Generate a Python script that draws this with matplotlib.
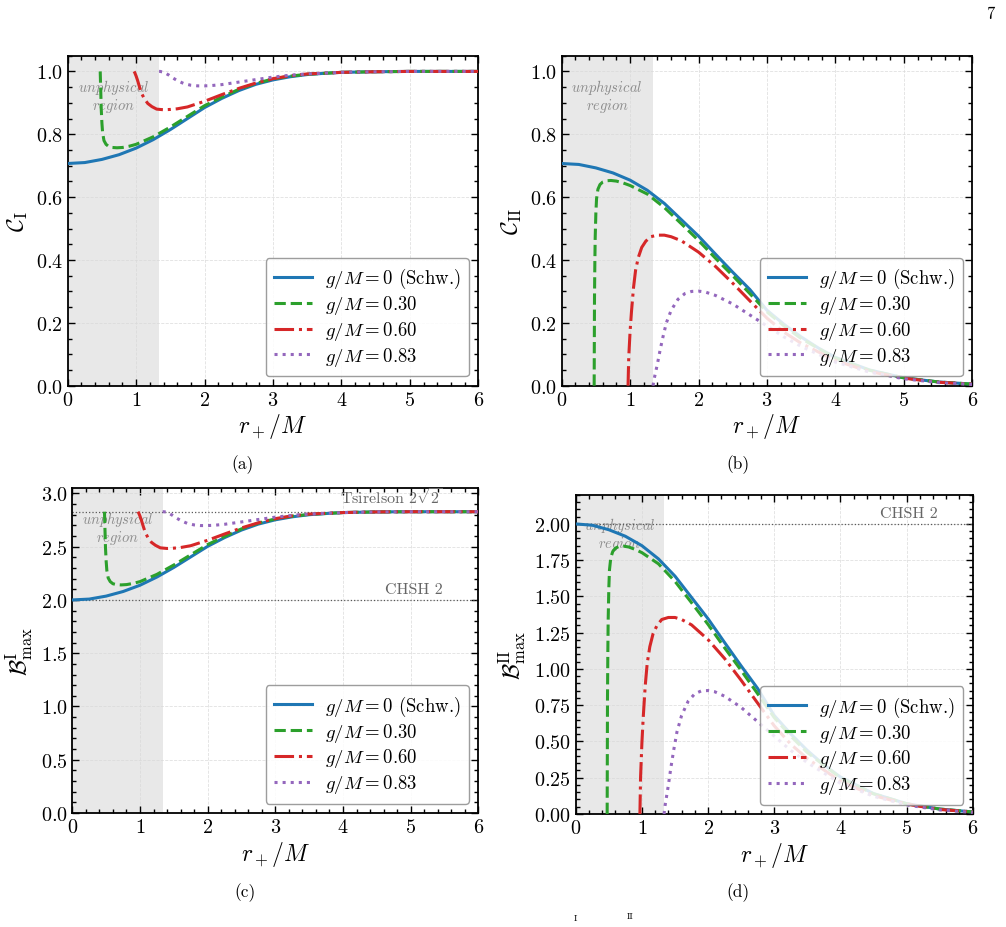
import matplotlib
matplotlib.use("Agg")
import matplotlib.pyplot as plt
from matplotlib.ticker import MultipleLocator, AutoMinorLocator
import matplotlib.transforms as mtransforms

plt.rcParams["font.family"] = "serif"
plt.rcParams["font.serif"] = ["cmr10", "DejaVu Serif"]
plt.rcParams["mathtext.fontset"] = "cm"
plt.rcParams["axes.formatter.use_mathtext"] = True

# r_+/M grids and curve values
x_schw = [0, 0.25, 0.5, 0.75, 1.0, 1.25, 1.5, 1.75, 2.0, 2.25, 2.5, 2.75, 3.0,
          3.25, 3.5, 3.75, 4.0, 4.5, 5.0, 5.5, 6.0]
x_g30 = [0.475, 0.48, 0.485, 0.49, 0.50, 0.51, 0.53, 0.56, 0.60, 0.65, 0.72, 0.80,
         0.90, 1.0, 1.25, 1.5, 1.75, 2.0, 2.25, 2.5, 2.75, 3.0, 3.25, 3.5, 4.0,
         4.5, 5.0, 5.5, 6.0]
x_g60 = [0.97, 0.98, 1.0, 1.02, 1.05, 1.08, 1.12, 1.17, 1.23, 1.30, 1.40, 1.50,
         1.60, 1.75, 2.0, 2.25, 2.5, 2.75, 3.0, 3.25, 3.5, 4.0, 4.5, 5.0, 5.5, 6.0]
x_g83 = [1.335, 1.35, 1.37, 1.40, 1.44, 1.48, 1.53, 1.60, 1.70, 1.80, 1.90, 2.0,
         2.1, 2.25, 2.5, 2.75, 3.0, 3.25, 3.5, 4.0, 4.5, 5.0, 5.5, 6.0]

# (a) C_I
cI_schw = [0.707, 0.710, 0.720, 0.735, 0.756, 0.783, 0.815, 0.850, 0.885, 0.914,
           0.939, 0.959, 0.973, 0.983, 0.990, 0.994, 0.997, 0.999, 1.0, 1.0, 1.0]
cI_g30 = [1.0, 0.96, 0.92, 0.88, 0.835, 0.805, 0.78, 0.768, 0.761, 0.758, 0.757,
          0.758, 0.762, 0.768, 0.792, 0.823, 0.857, 0.891, 0.918, 0.943, 0.962,
          0.976, 0.985, 0.991, 0.997, 0.999, 1.0, 1.0, 1.0]
cI_g60 = [1.0, 0.996, 0.985, 0.972, 0.950, 0.930, 0.913, 0.898, 0.888, 0.880,
          0.878, 0.879, 0.881, 0.887, 0.905, 0.926, 0.946, 0.963, 0.977, 0.986,
          0.992, 0.997, 0.999, 1.0, 1.0, 1.0]
cI_g83 = [1.0, 1.0, 0.999, 0.998, 0.993, 0.988, 0.980, 0.971, 0.961, 0.956, 0.954,
          0.954, 0.955, 0.958, 0.966, 0.974, 0.982, 0.988, 0.992, 0.997, 0.999,
          1.0, 1.0, 1.0]

# (b) C_II
cII_schw = [0.707, 0.704, 0.693, 0.677, 0.654, 0.622, 0.580, 0.528, 0.476, 0.418,
            0.361, 0.306, 0.240, 0.195, 0.155, 0.120, 0.090, 0.050, 0.025, 0.012,
            0.005]
cII_g30 = [0.0, 0.28, 0.39, 0.47, 0.55, 0.595, 0.625, 0.640, 0.648, 0.652, 0.653,
           0.651, 0.645, 0.637, 0.610, 0.567, 0.515, 0.462, 0.405, 0.350, 0.293,
           0.235, 0.19, 0.15, 0.088, 0.049, 0.025, 0.012, 0.005]
cII_g60 = [0.0, 0.09, 0.173, 0.235, 0.312, 0.367, 0.408, 0.440, 0.460, 0.474,
           0.479, 0.479, 0.474, 0.461, 0.425, 0.379, 0.326, 0.27, 0.215, 0.17,
           0.135, 0.08, 0.045, 0.024, 0.011, 0.005]
cII_g83 = [0.0, 0.02, 0.04, 0.07, 0.115, 0.155, 0.20, 0.24, 0.275, 0.293, 0.300,
           0.301, 0.298, 0.287, 0.26, 0.225, 0.19, 0.155, 0.125, 0.075, 0.043,
           0.022, 0.010, 0.004]

# (c) B^I_max
bI_schw = [2.000, 2.008, 2.036, 2.079, 2.138, 2.215, 2.305, 2.404, 2.503, 2.585,
           2.656, 2.712, 2.752, 2.780, 2.800, 2.811, 2.820, 2.826, 2.828, 2.828,
           2.828]
bI_g30 = [2.828, 2.715, 2.602, 2.489, 2.362, 2.277, 2.206, 2.172, 2.152, 2.144,
          2.141, 2.144, 2.155, 2.172, 2.240, 2.328, 2.424, 2.520, 2.596, 2.667,
          2.721, 2.761, 2.786, 2.803, 2.820, 2.826, 2.828, 2.828, 2.828]
bI_g60 = [2.828, 2.817, 2.786, 2.749, 2.687, 2.630, 2.582, 2.540, 2.512, 2.489,
          2.483, 2.486, 2.492, 2.509, 2.560, 2.619, 2.676, 2.724, 2.763, 2.789,
          2.806, 2.820, 2.826, 2.828, 2.828, 2.828]
bI_g83 = [2.828, 2.828, 2.826, 2.823, 2.809, 2.794, 2.772, 2.746, 2.718, 2.704,
          2.698, 2.698, 2.701, 2.710, 2.732, 2.755, 2.777, 2.794, 2.806, 2.820,
          2.826, 2.828, 2.828, 2.828]

# (d) B^II_max
bII_schw = [2.000, 1.991, 1.960, 1.915, 1.850, 1.759, 1.640, 1.493, 1.346, 1.182,
            1.021, 0.865, 0.679, 0.552, 0.438, 0.339, 0.255, 0.141, 0.071, 0.034,
            0.014]
bII_g30 = [0.0, 0.792, 1.103, 1.329, 1.556, 1.683, 1.768, 1.810, 1.833, 1.844,
           1.847, 1.841, 1.824, 1.802, 1.725, 1.604, 1.457, 1.307, 1.146, 0.990,
           0.829, 0.665, 0.537, 0.424, 0.249, 0.139, 0.071, 0.034, 0.014]
bII_g60 = [0.0, 0.255, 0.489, 0.665, 0.882, 1.038, 1.154, 1.245, 1.301, 1.341,
           1.355, 1.355, 1.341, 1.304, 1.202, 1.072, 0.922, 0.764, 0.608, 0.481,
           0.382, 0.226, 0.127, 0.068, 0.031, 0.014]
bII_g83 = [0.0, 0.057, 0.113, 0.198, 0.325, 0.438, 0.566, 0.679, 0.778, 0.829,
           0.849, 0.851, 0.843, 0.812, 0.735, 0.636, 0.537, 0.438, 0.354, 0.212,
           0.122, 0.062, 0.028, 0.011]

labels = [r"$g/M = 0$ (Schw.)", r"$g/M = 0.30$", r"$g/M = 0.60$", r"$g/M = 0.83$"]
colors = ["tab:blue", "tab:green", "tab:red", "tab:purple"]
styles = ["-", "--", "-.", ":"]
xs = [x_schw, x_g30, x_g60, x_g83]
r_unphys = 4 / 3
tsirelson = 2.828
chsh = 2.0

panels = [
    ([0.0673, 0.5833, 0.4082, 0.3556], [cI_schw, cI_g30, cI_g60, cI_g83],
     r"$\mathcal{C}_{\rm I}$", 1.05, 0.2, "(a)", (243, 465)),
    ([0.5583, 0.5833, 0.4082, 0.3556], [cII_schw, cII_g30, cII_g60, cII_g83],
     r"$\mathcal{C}_{\rm II}$", 1.05, 0.2, "(b)", (738, 465)),
    ([0.0719, 0.1228, 0.4036, 0.3502], [bI_schw, bI_g30, bI_g60, bI_g83],
     r"$\mathcal{B}^{\rm I}_{\max}$", 3.05, 0.5, "(c)", (245, 893)),
    ([0.5723, 0.1218, 0.3946, 0.3438], [bII_schw, bII_g30, bII_g60, bII_g83],
     r"$\mathcal{B}^{\rm II}_{\max}$", 2.2, 0.25, "(d)", (738, 893)),
]

fig = plt.figure(figsize=(10.06, 9.28), dpi=100)
W, H = 1006, 928

for k, (pos, ys, ylab, ytop, ystep, cap, cpos) in enumerate(panels):
    ax = fig.add_axes(pos)
    ax.axvspan(0, r_unphys, color="#e8e8e8", lw=0, zorder=0)
    for x, y, c, s, lab in zip(xs, ys, colors, styles, labels):
        ax.plot(x, y, color=c, ls=s, lw=2.2, label=lab, zorder=3)
    ax.set_xlim(0, 6)
    ax.set_ylim(0, ytop)
    ax.xaxis.set_major_locator(MultipleLocator(1))
    ax.yaxis.set_major_locator(MultipleLocator(ystep))
    ax.xaxis.set_minor_locator(AutoMinorLocator())
    ax.yaxis.set_minor_locator(AutoMinorLocator())
    ax.tick_params(which="both", direction="in", top=True, right=True,
                   labelsize=14.5, width=1.0)
    ax.tick_params(which="major", length=5)
    ax.tick_params(which="minor", length=3)
    for sp in ax.spines.values():
        sp.set_linewidth(1.3)
    ax.grid(True, which="major", ls="--", lw=0.6, color="0.85", alpha=0.8)
    ax.set_axisbelow(True)
    ax.set_xlabel(r"$r_+/M$", fontsize=17, labelpad=2)
    ax.set_ylabel(ylab, fontsize=17, labelpad=4)

    trans = mtransforms.blended_transform_factory(ax.transData, ax.transAxes)
    ax.text(r_unphys / 2, 0.88, "$\\mathit{unphysical}$\n$\\mathit{region}$",
            transform=trans, ha="center", va="center", fontsize=10.5,
            color="0.55", zorder=2, linespacing=1.0)

    if k == 2:
        ax.axhline(tsirelson, color="0.35", ls=":", lw=0.9, zorder=2)
        ax.axhline(chsh, color="0.35", ls=":", lw=0.9, zorder=2)
        ax.text(5.47, tsirelson + 0.04, r"Tsirelson $2\sqrt{2}$", ha="right",
                va="bottom", fontsize=11.5, color="0.4")
        ax.text(5.47, chsh + 0.04, "CHSH 2", ha="right", va="bottom",
                fontsize=11.5, color="0.4")
    if k == 3:
        ax.axhline(chsh, color="0.35", ls=":", lw=0.9, zorder=2)
        ax.text(5.47, chsh + 0.03, "CHSH 2", ha="right", va="bottom",
                fontsize=11.5, color="0.4")

    leg = ax.legend(loc="lower right", fontsize=13.5, handlelength=2.0,
                    labelspacing=0.15, handletextpad=0.7, borderpad=0.45,
                    framealpha=0.85, edgecolor="0.55", fancybox=True)
    leg.get_frame().set_linewidth(1.0)

    fig.text(cpos[0] / W, 1 - cpos[1] / H, cap, ha="center", va="center",
             fontsize=12.5)

fig.text(990 / W, 1 - 14 / H, "7", ha="center", va="center", fontsize=12)
fig.text(575 / W, 1 - 915 / H, "I", ha="center", va="top", fontsize=7)
fig.text(630 / W, 1 - 913 / H, "II", ha="center", va="top", fontsize=7)

fig.savefig("out.png", dpi=100)
